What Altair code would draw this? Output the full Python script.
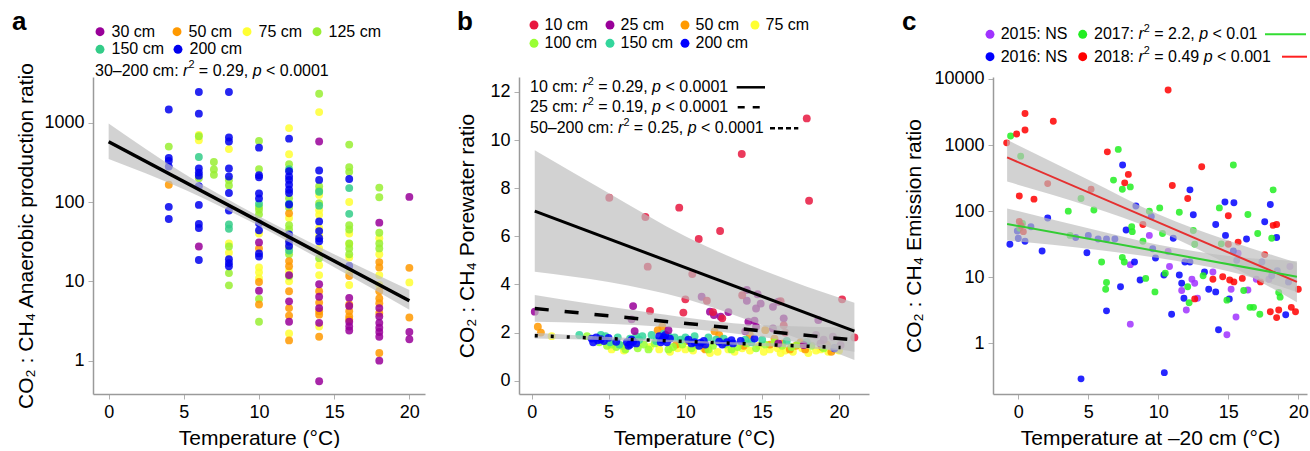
import altair as alt
import pandas as pd

FONT = "Liberation Sans"

# ---------------- panel a : anaerobic production ratio ----------------
A_GROUPS = ["30 cm", "50 cm", "75 cm", "125 cm", "150 cm", "200 cm"]
A_COLORS = ["#990099", "#FF9900", "#FFFF33", "#99EE33", "#33CC88", "#0000EE"]
A_30CM = [(6, 27.5), (10, 31), (10, 7.6), (12, 5.6), (12, 3.1), (12, 12), (14, 580), (14, 9.2), (14, 6.4),
          (14, 4.6), (14, 3.0), (14, 0.55), (16, 6.2), (16, 4.9), (16, 3.1), (16, 2.7), (16, 2.4), (18, 55),
          (18, 4.6), (18, 3.6), (18, 3.0), (18, 2.6), (18, 2.3), (18, 2.0), (18, 1.0), (20, 116), (20, 2.3),
          (20, 1.86)]
A_50CM = [(4, 165), (10, 26), (10, 9.8), (10, 5.1), (12, 72), (12, 18), (12, 15.5), (12, 7.5), (12, 4.6),
          (12, 3.7), (12, 1.8), (14, 7.5), (14, 5.4), (14, 3.8), (14, 2.0), (14, 4.2), (16, 11.7), (16, 5.1),
          (16, 4.2), (16, 3.6), (16, 3.3), (18, 17.5), (18, 15), (18, 7.5), (18, 6.1), (18, 5.3), (18, 4.0),
          (18, 1.25), (20, 14.8), (20, 3.5)]
A_75CM = [(6, 600), (6, 700), (8, 465), (8, 30), (8, 23), (10, 40), (10, 15), (10, 13), (10, 11), (12, 855),
          (12, 400), (12, 63), (12, 33), (12, 27), (12, 13.4), (12, 10), (12, 2.2), (14, 1360), (14, 123),
          (14, 79), (14, 69), (14, 47), (14, 38), (14, 26), (14, 16), (14, 12), (14, 2.7), (16, 100), (16, 40),
          (16, 29.6), (16, 20), (16, 13), (16, 9), (18, 35), (18, 22), (18, 12), (18, 9), (20, 9.7)]
A_125CM = [(4, 500), (6, 675), (6, 200), (7, 320), (7, 257), (7, 220), (8, 188), (8, 162), (8, 27.5),
           (8, 12.7), (8, 8.9), (10, 590), (10, 260), (10, 87), (10, 80), (10, 70), (10, 6), (10, 3.1),
           (12, 300), (12, 112), (12, 85), (12, 51), (12, 45), (12, 22), (12, 11.6), (14, 2320), (14, 158),
           (14, 140), (14, 97), (14, 19.6), (16, 530), (16, 275), (16, 240), (16, 51), (16, 45), (16, 30),
           (16, 26), (16, 22), (18, 152), (18, 115), (18, 41), (18, 30), (18, 26)]
A_150CM = [(6, 370), (8, 52), (8, 46), (10, 95), (12, 260), (12, 95), (12, 24.5), (14, 135), (14, 90),
           (16, 150), (16, 71)]
A_200CM = [(4, 1470), (4, 360), (4, 330), (4, 280), (4, 87), (4, 61), (6, 2440), (6, 1300), (6, 265),
           (6, 235), (6, 215), (6, 158), (6, 92), (6, 53), (6, 47), (6, 18.6), (8, 2440), (8, 650), (8, 580),
           (8, 265), (8, 210), (8, 130), (8, 78), (8, 19), (8, 17), (8, 15.5), (10, 485), (10, 218), (10, 205),
           (10, 128), (10, 111), (10, 54), (10, 44), (10, 22.5), (10, 20.5), (12, 630), (12, 244), (12, 210),
           (12, 190), (12, 165), (12, 143), (12, 130), (12, 93), (12, 39), (12, 31.5), (12, 28), (14, 250),
           (14, 190), (14, 57), (14, 43), (14, 35), (14, 32), (16, 195), (16, 15.6)]
A_FIT_T = [0, 20]
A_FIT_V = [575, 5.7]
A_BAND_T = [0, 5, 10, 15, 20]
A_BAND_LO = [350, 145, 50, 15.1, 4.4]
A_BAND_HI = [980, 229, 66, 22, 7.8]

# ---------------- panel b : porewater ratio ----------------
B_GROUPS = ["10 cm", "25 cm", "50 cm", "75 cm", "100 cm", "150 cm", "200 cm"]
B_COLORS = ["#E8173F", "#990099", "#FF9900", "#FFFF33", "#99FF33", "#33D69C", "#0000FF"]
B_10CM = [(5.05, 7.6), (7.4, 6.8), (7.55, 4.74), (7.7, 2.9), (9.6, 7.19), (9.87, 2.83), (10.0, 3.38),
          (10.45, 4.43), (10.87, 5.89), (11.4, 3.32), (12.26, 6.22), (12.4, 2.59), (13.67, 9.42), (13.7, 3.55),
          (17.9, 10.9), (18.05, 7.48), (20.2, 3.38), (21.0, 1.80), (16.2, 3.3), (16.4, 2.3), (16.5, 2.0),
          (11.8, 2.85)]
B_25CM = [(0.2, 2.87), (6.6, 3.1), (6.7, 2.06), (6.5, 2.55), (11.06, 3.49), (11.6, 2.87), (11.86, 2.73),
          (12.3, 2.66), (12.8, 2.85), (14.0, 3.77), (14.0, 3.32), (14.7, 3.59), (14.6, 3.0), (14.9, 3.2),
          (15.7, 3.07), (16.05, 3.28), (14.1, 2.45), (14.5, 2.49), (14.6, 2.24), (15.7, 2.17), (16.4, 2.59),
          (18.65, 2.52), (18.5, 1.9), (19.6, 1.83), (20.1, 1.48), (18.8, 1.55), (17.7, 1.48), (16.05, 1.55),
          (8.9, 2.1), (13.9, 2.05), (19.0, 1.7)]
B_50CM = [(0.4, 2.24), (0.6, 2.0), (8.2, 2.1), (8.5, 2.25), (10.1, 1.65), (11.9, 2.05), (12.2, 1.9),
          (13.8, 1.45), (14.2, 1.9), (15.2, 2.1), (15.8, 1.75), (16.3, 1.55), (16.8, 1.3), (17.2, 1.45),
          (17.8, 1.3), (18.9, 1.4), (19.5, 1.2), (9.4, 1.5), (11.3, 1.3), (12.6, 1.6), (15.5, 1.5),
          (17.5, 1.6), (19.2, 1.5)]
B_75CM = [(1.3, 1.85), (7.7, 1.4), (9.5, 1.35), (10.0, 1.3), (10.5, 1.25), (11.2, 1.35), (12.8, 1.3),
          (13.7, 1.35), (14.2, 1.25), (15.5, 1.3), (16.0, 1.35), (16.5, 1.25), (17.0, 1.2), (17.6, 1.35),
          (18.5, 1.25), (19.3, 1.2), (19.8, 1.3), (20.0, 1.25), (5.2, 1.3), (12.1, 1.2), (14.8, 1.45),
          (18.0, 1.15), (6.0, 1.25), (8.3, 1.3), (9.0, 1.2), (11.6, 1.15), (13.2, 1.2), (15.1, 1.2),
          (16.2, 1.15), (18.8, 1.3)]
B_100CM = [(3.6, 1.85), (4.4, 1.6), (5.2, 1.5), (5.5, 1.4), (5.9, 1.45), (7.3, 1.5), (8.0, 1.55), (8.9, 1.3),
           (9.8, 1.5), (10.8, 1.45), (11.8, 1.45), (12.6, 1.5), (13.4, 1.4), (14.0, 1.55), (15.2, 1.5),
           (15.8, 1.6), (16.3, 1.45), (17.3, 1.5), (18.2, 1.45), (6.9, 1.35), (4.9, 1.45), (6.1, 1.3),
           (7.6, 1.3), (9.2, 1.4), (10.4, 1.35), (11.5, 1.3), (13.0, 1.3), (14.6, 1.35), (16.9, 1.4),
           (19.0, 1.35)]
B_150CM = [(3.1, 1.9), (4.8, 1.85), (5.6, 1.8), (5.7, 1.5), (6.4, 1.75), (7.0, 1.7), (7.2, 1.85), (7.8, 1.9),
           (8.6, 1.95), (9.3, 1.8), (9.7, 1.7), (11.5, 1.8), (12.0, 1.7), (13.9, 1.7), (15.0, 1.7), (16.6, 1.65),
           (17.9, 1.6), (8.1, 1.65), (10.6, 1.85), (4.5, 1.9), (5.1, 1.6), (6.8, 1.85), (8.9, 1.85),
           (10.0, 1.8), (12.5, 1.75), (14.3, 1.6)]
B_200CM = [(3.9, 1.75), (4.2, 1.8), (4.3, 1.68), (4.5, 1.72), (5.0, 1.78), (6.2, 1.6), (6.4, 1.5), (6.6, 1.62),
           (6.8, 1.55), (8.3, 1.85), (8.5, 1.7), (8.7, 1.9), (9.0, 1.75), (10.2, 1.7), (10.4, 1.55), (10.6, 1.6),
           (11.0, 1.58), (11.3, 1.5), (12.2, 1.62), (12.7, 1.6), (13.1, 1.55), (13.6, 1.65), (14.5, 1.75),
           (19.7, 1.35), (8.4, 1.6), (6.5, 1.7), (4.7, 1.65), (6.3, 1.45), (8.6, 1.8), (8.8, 1.6),
           (10.9, 1.45), (11.2, 1.65), (12.4, 1.5), (13.0, 1.68), (4.0, 1.6), (5.5, 1.62)]
B10_FIT_T = [0.2, 21.0]
B10_FIT_V = [7.05, 2.06]
B10_BAND_T = [0.2, 5, 10, 15, 21]
B10_BAND_LO = [4.53, 4.1, 3.4, 2.3, 0.86]
B10_BAND_HI = [9.58, 7.8, 6.0, 4.6, 3.24]
B25_FIT_T = [0.2, 21.0]
B25_FIT_V = [3.0, 1.69]
B25_BAND_T = [0.2, 7, 14, 21]
B25_BAND_LO = [2.45, 2.3, 1.9, 1.2]
B25_BAND_HI = [3.56, 2.9, 2.35, 2.2]
B50_FIT_T = [0.2, 20.1]
B50_FIT_V = [1.87, 1.38]
B50_BAND_T = [0.2, 10, 20.1]
B50_BAND_LO = [1.75, 1.58, 1.27]
B50_BAND_HI = [1.99, 1.67, 1.49]

# ---------------- panel c : emission ratio ----------------
C_GROUPS = ["2015", "2016", "2017", "2018"]
C_COLORS = ["#A033FF", "#0000FF", "#22EE22", "#FF0000"]
C_2015 = [(9.36, 43), (8.0, 1.95), (8.0, 15.5), (10.8, 14.5), (10.7, 24.5), (11.67, 6.3), (12.0, 3.2),
          (12.4, 9.3), (12.6, 8.1), (12.8, 4.8), (13.9, 12), (14.9, 1.35), (15.2, 6.6), (15.55, 2.5),
          (15.7, 23), (16.4, 6.4), (17.0, 9.3), (17.9, 9.3), (19.3, 8.5), (19.4, 14.5)]
C_2016 = [(-0.6, 31.6), (-0.07, 50), (0.0, 39), (0.48, 35), (0.9, 58), (1.7, 25), (2.1, 79), (4.1, 40),
          (4.48, 0.29), (4.9, 23.5), (5.0, 43), (5.7, 38), (6.3, 38), (6.3, 3.1), (6.9, 38), (7.3, 7.2),
          (7.45, 500), (7.7, 52), (8.3, 17), (8.4, 120), (8.7, 9.1), (9.5, 83), (9.6, 27), (9.8, 19.5),
          (10.4, 10.8), (10.43, 0.36), (10.95, 2.75), (11.07, 39), (11.5, 10.8), (11.67, 8.1), (11.83, 4.8),
          (11.9, 17), (12.26, 210), (12.26, 17), (12.5, 88), (13.3, 12), (13.6, 6.6), (14.1, 63), (14.1, 6.0),
          (14.3, 1.6), (14.76, 138), (14.8, 43), (15.07, 4.7), (15.4, 134), (15.36, 25), (15.6, 18),
          (16.3, 38), (17.4, 17), (17.6, 69), (18.0, 126), (18.1, 10.5), (18.45, 40), (18.5, 12.6),
          (19.1, 2.7), (19.3, 8.5)]
C_2017 = [(-0.55, 1370), (0.17, 680), (3.57, 100), (3.7, 43), (4.48, 155), (5.4, 104), (5.95, 17), (6.3, 8.3),
          (6.24, 6.6), (6.8, 295), (7.14, 860), (7.43, 215), (7.43, 20), (7.57, 17), (8.0, 233), (8.1, 58),
          (8.14, 49), (8.9, 35), (9.1, 9.6), (9.36, 100), (9.76, 6.0), (10.1, 112), (10.3, 46), (10.5, 11.5),
          (11.5, 96), (12.1, 7.2), (12.2, 4.1), (12.5, 51), (12.6, 31.6), (13.2, 10.5), (14.36, 112),
          (14.5, 32), (14.9, 4.5), (15.36, 500), (16.1, 6.3), (16.4, 89), (16.55, 3.5), (16.8, 3.5),
          (17.1, 46), (17.25, 2.75), (18.1, 39), (18.2, 210), (18.6, 5.9), (18.7, 5.0), (0.3, 65), (0.1, 55)]
C_2018 = [(-0.83, 1080), (-0.12, 1470), (0.48, 3000), (0.48, 1690), (2.5, 2300), (10.7, 6800), (0.07, 170),
          (1.12, 152), (2.1, 261), (5.2, 215), (6.36, 790), (7.6, 268), (7.86, 360), (8.9, 63), (11.0, 245),
          (12.1, 155), (13.1, 470), (12.6, 4.7), (13.9, 9.3), (15.0, 85), (15.0, 31.6), (14.6, 10.2),
          (15.1, 9.1), (15.4, 8.5), (15.7, 34), (16.0, 9.6), (17.3, 8.5), (17.6, 22), (18.0, 3.0), (18.2, 61),
          (18.45, 63), (18.45, 2.45), (18.6, 3.2), (19.5, 3.5), (19.8, 3.0), (20.0, 6.6), (0.07, 70),
          (0.36, 49), (0.2, 60)]
C18_FIT_T = [-0.8, 19.9]
C18_FIT_V = [650, 8.5]
C18_BAND_T = [-0.8, 5, 10, 15, 19.9]
C18_BAND_LO = [280, 120, 50, 15.5, 4.2]
C18_BAND_HI = [1200, 300, 90, 36, 16.5]
C17_FIT_T = [-0.8, 19.9]
C17_FIT_V = [64, 10.2]
C17_BAND_T = [-0.8, 5, 10, 15, 19.9]
C17_BAND_LO = [36, 27, 19.5, 12.3, 6.0]
C17_BAND_HI = [110, 55, 31, 21, 17.5]

# ---------------- helpers ----------------
ONE = pd.DataFrame({"k": [0]})
EM = {"0": .556, "1": .556, "2": .556, "3": .556, "4": .556, "5": .556, "6": .556, "7": .556, "8": .556,
      "9": .556, " ": .278, "c": .5, "m": .833, ":": .278, "–": .556, "=": .584, ",": .278, ".": .278,
      "<": .584, "r": .333, "p": .556, "N": .722, "S": .667}


def tw(s, size):
    return sum(EM.get(ch, .556) for ch in s) * size


def points_df(groups, series):
    rows = []
    for g, s in zip(groups, series):
        for t, v in s:
            rows.append({"T": t, "V": v, "grp": g})
    return pd.DataFrame(rows)


def dot(x, y, color, size=80):
    return alt.Chart(ONE).mark_circle(size=size, color=color, opacity=1).encode(
        x=alt.value(x), y=alt.value(y))


def txt(x, y, text, size=16, style="normal", weight="normal", dy=0, baseline="middle"):
    return alt.Chart(ONE).mark_text(text=text, font=FONT, fontSize=size, fontStyle=style,
                                    fontWeight=weight, align="left", baseline=baseline,
                                    color="black", dy=dy).encode(x=alt.value(x), y=alt.value(y))


def rich(x, y, segments, size=16):
    layers = []
    cx = x
    for s, kind in segments:
        fs = size * 0.68 if kind == "sup" else size
        lead = len(s) - len(s.lstrip(" "))
        body = s.strip(" ")
        if body:
            layers.append(txt(cx + tw(" " * lead, fs), y, body, size=fs,
                              style="italic" if kind == "i" else "normal",
                              dy=-size * 0.36 if kind == "sup" else 0))
        cx += tw(s, fs)
    return layers


def stat(prefix, r2, sep, p):
    return [(prefix, "n"), ("r", "i"), ("2", "sup"), (" = " + r2 + sep, "n"), ("p", "i"), (" < " + p, "n")]


def hrule(x1, x2, y, color, width=2.5, dash=None):
    kw = dict(color=color, strokeWidth=width)
    if dash:
        kw["strokeDash"] = dash
    return alt.Chart(ONE).mark_rule(**kw).encode(x=alt.value(x1), x2=alt.value(x2), y=alt.value(y))


def panel(xscale, yscale, xaxis, yaxis, xtitle, ytitle):
    def X(f):
        return alt.X(f, type="quantitative", scale=xscale, axis=xaxis, title=xtitle)

    def Y(f):
        return alt.Y(f, type="quantitative", scale=yscale, axis=yaxis, title=ytitle)
    return X, Y


def fit_layers(X, Y, bt, lo, hi, ft, fv, color, width, dash=None):
    band = alt.Chart(pd.DataFrame({"T": bt, "lo": lo, "hi": hi})).mark_area(
        color="#bdbdbd", opacity=0.68, interpolate="monotone").encode(x=X("T"), y=Y("lo"), y2="hi:Q")
    kw = dict(color=color, strokeWidth=width)
    if dash:
        kw["strokeDash"] = dash
    line = alt.Chart(pd.DataFrame({"T": ft, "V": fv})).mark_line(**kw).encode(x=X("T"), y=Y("V"))
    return band, line


XTICKS = [0, 5, 10, 15, 20]
H = 317

# ---------------- panel a ----------------
a_x = alt.Scale(domain=[-1.04, 21.04], nice=False, zero=False)
a_y = alt.Scale(type="log", domain=[0.38, 3770], nice=False)
Xa, Ya = panel(a_x, a_y, alt.Axis(values=XTICKS, titlePadding=6),
               alt.Axis(values=[1, 10, 100, 1000], format="d", titlePadding=7),
               "Temperature (°C)", "CO₂ : CH₄ Anaerobic production ratio")
a_order = ["75 cm", "125 cm", "150 cm", "50 cm", "30 cm", "200 cm"]
a_series = {"30 cm": A_30CM, "50 cm": A_50CM, "75 cm": A_75CM, "125 cm": A_125CM, "150 cm": A_150CM,
            "200 cm": A_200CM}
a_df = points_df(a_order, [a_series[g] for g in a_order])
a_pts = alt.Chart(a_df).mark_circle(size=62, opacity=0.85).encode(
    x=Xa("T"), y=Ya("V"),
    color=alt.Color("grp:N", scale=alt.Scale(domain=A_GROUPS, range=A_COLORS), legend=None))
a_band, a_line = fit_layers(Xa, Ya, A_BAND_T, A_BAND_LO, A_BAND_HI, A_FIT_T, A_FIT_V, "black", 3.5)
a_layers = [a_pts, a_band, a_line]
a_leg = [(7, -45.3), (84, -45.3), (154, -45.3), (224, -45.3), (7, -27.7), (85, -27.7)]
for (lx, ly), g, c in zip(a_leg, A_GROUPS, A_COLORS):
    a_layers += [dot(lx, ly, c), txt(lx + 11.5, ly, g)]
a_layers += rich(2, -6, stat("30–200 cm: ", "0.29", ", ", "0.0001"))
a_layers.append(txt(-81, -47, "a", size=26, weight="bold", baseline="alphabetic"))
a_layers.append(alt.Chart(ONE).mark_square(size=1, opacity=0).encode(x=alt.value(-92.5), y=alt.value(-76.5)))
panel_a = alt.layer(*a_layers).properties(width=332, height=H)

# ---------------- panel b ----------------
b_x = alt.Scale(domain=[-0.826, 21.95], nice=False, zero=False, range=[0, 350])
b_y = alt.Scale(domain=[-0.553, 12.62], nice=False, zero=False)
Xb, Yb = panel(b_x, b_y, alt.Axis(values=XTICKS, titlePadding=6),
               alt.Axis(values=[0, 2, 4, 6, 8, 10, 12], titlePadding=12),
               "Temperature (°C)", "CO₂ : CH₄ Porewater ratio")
b_order = ["75 cm", "50 cm", "100 cm", "150 cm", "200 cm", "25 cm", "10 cm"]
b_series = {"10 cm": B_10CM, "25 cm": B_25CM, "50 cm": B_50CM, "75 cm": B_75CM, "100 cm": B_100CM,
            "150 cm": B_150CM, "200 cm": B_200CM}
b_df = points_df(b_order, [b_series[g] for g in b_order])
b_pts = alt.Chart(b_df).mark_circle(size=62, opacity=0.85).encode(
    x=Xb("T"), y=Yb("V"),
    color=alt.Color("grp:N", scale=alt.Scale(domain=B_GROUPS, range=B_COLORS), legend=None))
b10_band, b10_line = fit_layers(Xb, Yb, B10_BAND_T, B10_BAND_LO, B10_BAND_HI, B10_FIT_T, B10_FIT_V, "black", 3)
b25_band, b25_line = fit_layers(Xb, Yb, B25_BAND_T, B25_BAND_LO, B25_BAND_HI, B25_FIT_T, B25_FIT_V, "black",
                                3.5, dash=[14, 16])
b50_band, b50_line = fit_layers(Xb, Yb, B50_BAND_T, B50_BAND_LO, B50_BAND_HI, B50_FIT_T, B50_FIT_V, "black",
                                3.5, dash=[3, 13])
b_layers = [b_pts, b10_band, b25_band, b50_band, b10_line, b25_line, b50_line]
b_leg = [(15, -52), (91, -52), (166, -52), (236, -52), (15, -33.7), (91, -33.7), (166, -33.7)]
for (lx, ly), g, c in zip(b_leg, B_GROUPS, B_COLORS):
    b_layers += [dot(lx, ly, c), txt(lx + 10.5, ly, g)]
b_layers += rich(11, 10.3, stat("10 cm: ", "0.29", ", ", "0.0001"))
b_layers.append(hrule(217.7, 246, 10.3, "black", 2.5))
b_layers += rich(11, 30.3, stat("25 cm: ", "0.19", ", ", "0.0001"))
b_layers.append(hrule(218.7, 241.7, 30.3, "black", 2.5, dash=[7, 8]))
b_layers += rich(11, 51.3, stat("50–200 cm: ", "0.25", ", ", "0.0001"))
b_layers.append(hrule(251, 279.3, 51.3, "black", 2.5, dash=[5, 3]))
b_layers.append(txt(-62, -47, "b", size=26, weight="bold", baseline="alphabetic"))
panel_b = alt.layer(*b_layers).properties(width=380, height=H)

# ---------------- panel c ----------------
c_x = alt.Scale(domain=[-1.807, 20.62], nice=False, zero=False)
c_y = alt.Scale(type="log", domain=[0.171, 10720], nice=False)
Xc, Yc = panel(c_x, c_y, alt.Axis(values=XTICKS, titlePadding=6),
               alt.Axis(values=[1, 10, 100, 1000, 10000], format="d", titlePadding=9),
               "Temperature at –20 cm (°C)", "CO₂ : CH₄ Emission ratio")
c_df = points_df(C_GROUPS, [C_2015, C_2016, C_2017, C_2018])
c_pts = alt.Chart(c_df).mark_circle(size=48, opacity=0.85).encode(
    x=Xc("T"), y=Yc("V"),
    color=alt.Color("grp:N", scale=alt.Scale(domain=C_GROUPS, range=C_COLORS), legend=None))
c18_band, c18_line = fit_layers(Xc, Yc, C18_BAND_T, C18_BAND_LO, C18_BAND_HI, C18_FIT_T, C18_FIT_V,
                                "#E53030", 2)
c17_band, c17_line = fit_layers(Xc, Yc, C17_BAND_T, C17_BAND_LO, C17_BAND_HI, C17_FIT_T, C17_FIT_V,
                                "#33CC33", 2)
c_layers = [c_pts, c18_band, c17_band, c18_line, c17_line]
c_layers += [dot(-3, -42.7, C_COLORS[0]), txt(7.7, -42.7, "2015: NS"),
             dot(-3, -20.3, C_COLORS[1]), txt(7.7, -20.3, "2016: NS"),
             dot(89.7, -42.7, C_COLORS[2]), dot(89.7, -20.3, C_COLORS[3])]
c_layers += rich(101, -42.7, stat("2017: ", "2.2", ", ", "0.01"))
c_layers.append(hrule(272, 313, -42.7, "#33DD33", 2))
c_layers += rich(101, -20.3, stat("2018: ", "0.49", " ", "0.001"))
c_layers.append(hrule(289, 314, -20.3, "#FF2020", 2))
c_layers.append(txt(-91, -47, "c", size=26, weight="bold", baseline="alphabetic"))
panel_c = alt.layer(*c_layers).properties(width=314, height=H)

chart = alt.hconcat(panel_a, panel_b, panel_c, spacing=94, bounds="flush").resolve_scale(
    color="independent", x="independent", y="independent"
).properties(
    padding=0, background="white"
).configure_view(stroke=None).configure_axis(
    labelFont=FONT, titleFont=FONT, labelFontSize=18, titleFontSize=21, titleFontWeight="normal",
    labelColor="black", titleColor="black", tickSize=5, tickColor="#b0b0b0", domainColor="#9a9a9a",
    domainWidth=1.5, grid=False, labelPadding=4
)

chart.save("out.html", embed_options={"renderer": "svg", "actions": False})
